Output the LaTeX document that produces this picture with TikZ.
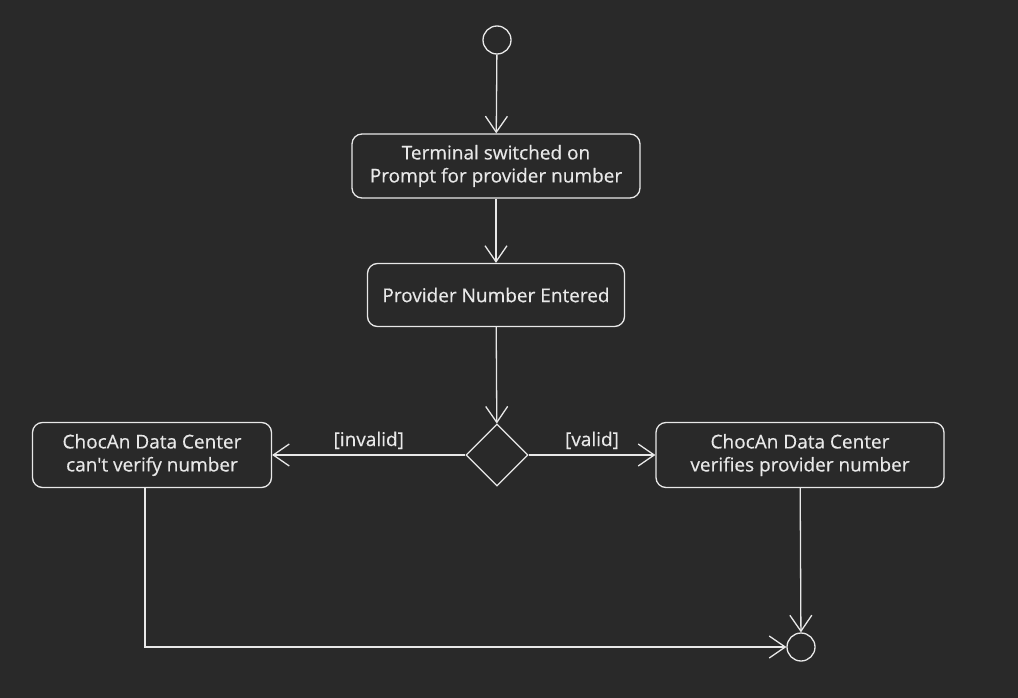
\documentclass[tikz,border=0pt]{standalone}
\usepackage{fontspec}
\newfontfamily\chartfont{Open Sans}[FakeBold=0.4]
\usetikzlibrary{arrows.meta,shapes.geometric}
\definecolor{BgDark}{HTML}{292929}
\definecolor{LineLight}{HTML}{E8E8E8}

\begin{document}
\begin{tikzpicture}[x=1pt,y=-1pt,
    every node/.style={text=LineLight,font=\chartfont\fontsize{19}{23}\selectfont},
    action/.style={draw=LineLight,line width=1.3pt,rounded corners=10pt,align=center,inner sep=0pt},
    choice/.style={draw=LineLight,line width=1.3pt,diamond,minimum width=62pt,minimum height=62pt,inner sep=0pt},
    terminal/.style={draw=LineLight,line width=1.3pt,circle,minimum size=28pt,inner sep=0pt},
    flow/.style={draw=LineLight,line width=1.3pt,-{Straight Barb[length=16pt,width=22pt,line width=1.3pt]}},
    guard/.style={above=2pt}]
        \fill[BgDark] (0,0) rectangle (1018,698);
        \useasboundingbox (0,0) rectangle (1018,698);
        \node[terminal] (start) at (497,40) {};
        \node[action,minimum width=288pt,minimum height=64pt] (switchon) at (496,166) {Terminal switched on\\Prompt for provider number};
        \node[action,minimum width=257pt,minimum height=63pt] (entered) at (496,295) {Provider Number Entered};
        \node[choice] (check) at (497,455) {};
        \node[action,minimum width=239pt,minimum height=65pt] (failed) at (152,455) {ChocAn Data Center\\can't verify number};
        \node[action,minimum width=288pt,minimum height=65pt] (verified) at (800,455) {ChocAn Data Center\\verifies provider number};
        \node[terminal] (stop) at (801,647) {};
        \draw[flow] (start) -- (switchon);
        \draw[flow] (switchon) -- (entered);
        \draw[flow] (entered) -- (check);
        \draw[flow] (check) -- node[guard] {[invalid]} (failed);
        \draw[flow] (check) -- node[guard] {[valid]} (verified);
        \draw[flow] (verified) -- (stop);
        \draw[flow] ([xshift=-7pt]failed.south) |- (stop);
      \end{tikzpicture}
\end{document}
